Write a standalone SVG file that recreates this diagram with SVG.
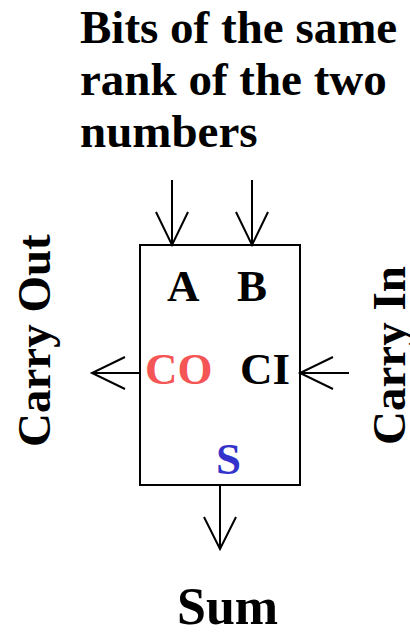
<svg xmlns="http://www.w3.org/2000/svg" width="410" height="633" viewBox="0 0 410 633">
<style>
text{font-family:"Liberation Serif","Times New Roman",serif;font-weight:bold}
.t{font-size:47px;fill:#000}
.l{font-size:45px}
.ln{stroke:#000;stroke-width:2;fill:none}
</style>
<rect width="410" height="633" fill="#fff"/>
<g id="title">
<text class="t" x="80" y="43">Bits of the same</text>
<text class="t" x="80" y="95">rank of the two</text>
<text class="t" x="80" y="147">numbers</text>
</g>
<g id="adder">
<rect x="140" y="245" width="160" height="240" class="ln"/>
<text class="l" x="167" y="301">A</text>
<text class="l" x="237" y="301">B</text>
<text class="l" x="145" y="384" fill="#f55555">CO</text>
<text class="l" x="240" y="384">CI</text>
<text class="l" x="216" y="474" fill="#3333cc">S</text>
</g>
<g id="carry-out"><text class="t" transform="translate(50,447) rotate(-90)">Carry Out</text></g>
<g id="carry-in"><text class="t" transform="translate(405,445) rotate(-90)">Carry In</text></g>
<g id="sum"><text x="177" y="624" font-size="52">Sum</text></g>
<g id="connectors" class="ln">
<path d="M172,180V245M156,212L172,245L188,212"/>
<path d="M252,180V245M236,212L252,245L268,212"/>
<path d="M140,373H92M125,357L92,373L125,389"/>
<path d="M349,373H300M333,357L300,373L333,389"/>
<path d="M220,485V549M204,517L220,549L236,517"/>
</g>
</svg>
